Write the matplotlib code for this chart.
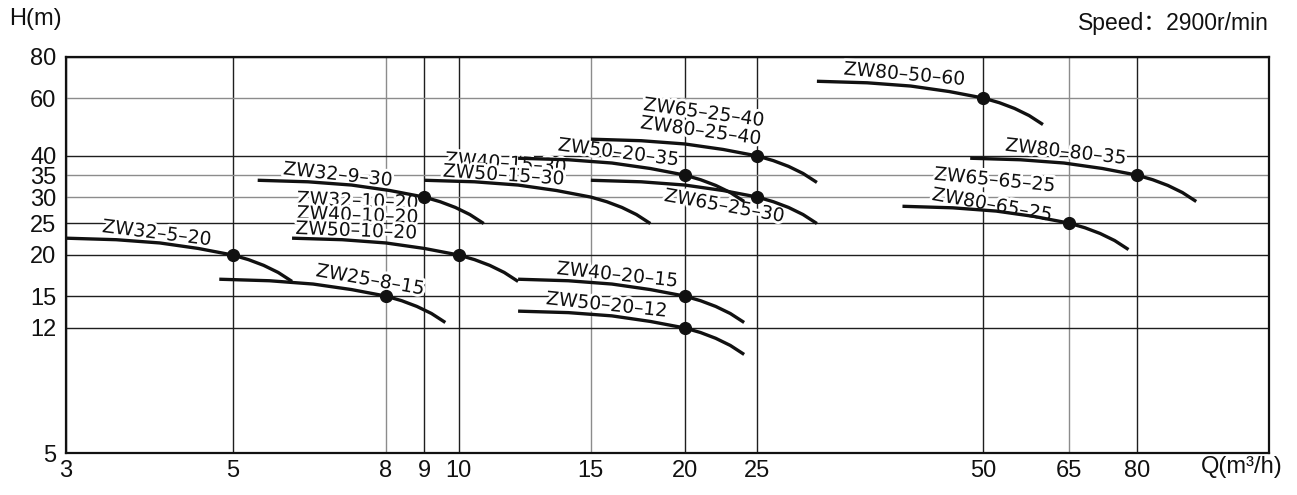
import matplotlib
matplotlib.use("Agg")
import matplotlib.pyplot as plt
import matplotlib.patheffects as pe
from matplotlib.ticker import FixedLocator, FixedFormatter, NullLocator

# ---------------- data ----------------
x_ticks = [3, 5, 8, 9, 10, 15, 20, 25, 50, 65, 80]
y_ticks = [5, 12, 15, 20, 25, 30, 35, 40, 60, 80]

curve_q = [
    [3.0, 3.5, 4.0, 4.5, 5.0, 5.25, 5.5, 5.75, 6.0],          # ZW32-5-20
    [4.8, 5.6, 6.4, 7.2, 8.0, 8.4, 8.8, 9.2, 9.6],            # ZW25-8-15
    [5.4, 6.3, 7.2, 8.1, 9.0, 9.45, 9.9, 10.35, 10.8],        # ZW32-9-30
    [6.0, 7.0, 8.0, 9.0, 10.0, 10.5, 11.0, 11.5, 12.0],       # ZW32/40/50-10-20
    [9.0, 10.5, 12.0, 13.5, 15.0, 15.75, 16.5, 17.25, 18.0],  # ZW40/50-15-30
    [12, 14, 16, 18, 20, 21, 22, 23, 24],                     # ZW50-20-35
    [15, 17.5, 20, 22.5, 25, 26.25, 27.5, 28.75, 30],         # ZW65/80-25-40
    [15, 17.5, 20, 22.5, 25, 26.25, 27.5, 28.75, 30],         # ZW65-25-30
    [12, 14, 16, 18, 20, 21, 22, 23, 24],                     # ZW40-20-15
    [12, 14, 16, 18, 20, 21, 22, 23, 24],                     # ZW50-20-12
    [30, 35, 40, 45, 50, 52.5, 55, 57.5, 60],                 # ZW80-50-60
    [48, 56, 64, 72, 80, 84, 88, 92, 96],                     # ZW80-80-35
    [39, 45.5, 52, 58.5, 65, 68.25, 71.5, 74.75, 78],         # ZW65/80-65-25
]
curve_h = [
    [22.5, 22.26, 21.76, 20.94, 20.0, 19.36, 18.6, 17.7, 16.62],
    [16.88, 16.7, 16.32, 15.7, 15.0, 14.52, 13.95, 13.28, 12.47],
    [33.75, 33.39, 32.64, 31.41, 30.0, 29.04, 27.9, 26.55, 24.93],
    [22.5, 22.26, 21.76, 20.94, 20.0, 19.36, 18.6, 17.7, 16.62],
    [33.75, 33.39, 32.64, 31.41, 30.0, 29.04, 27.9, 26.55, 24.93],
    [39.38, 38.96, 38.08, 36.65, 35.0, 33.88, 32.55, 30.98, 29.09],
    [45.0, 44.52, 43.52, 41.88, 40.0, 38.72, 37.2, 35.4, 33.24],
    [33.75, 33.39, 32.64, 31.41, 30.0, 29.04, 27.9, 26.55, 24.93],
    [16.88, 16.7, 16.32, 15.7, 15.0, 14.52, 13.95, 13.28, 12.47],
    [13.5, 13.36, 13.06, 12.56, 12.0, 11.62, 11.16, 10.62, 9.97],
    [67.5, 66.78, 65.28, 62.82, 60.0, 58.08, 55.8, 53.1, 49.86],
    [39.38, 38.96, 38.08, 36.65, 35.0, 33.88, 32.55, 30.98, 29.09],
    [28.13, 27.83, 27.2, 26.18, 25.0, 24.2, 23.25, 22.13, 20.78],
]

dot_q = [5, 8, 9, 10, 20, 25, 25, 20, 20, 50, 80, 65]
dot_h = [20, 15, 30, 20, 35, 40, 30, 15, 12, 60, 35, 25]

label_text = ["ZW32–5–20", "ZW25–8–15", "ZW32–9–30", "ZW32–10–20", "ZW40–10–20",
              "ZW50–10–20", "ZW40–15–30", "ZW50–15–30", "ZW50–20–35", "ZW65–25–40",
              "ZW80–25–40", "ZW65–25–30", "ZW40–20–15", "ZW50–20–12", "ZW80–50–60",
              "ZW80–80–35", "ZW65–65–25", "ZW80–65–25"]
label_q = [3.96, 7.62, 6.90, 7.33, 7.33, 7.30, 11.55, 11.47, 16.31, 21.2,
           21.0, 22.57, 16.26, 15.73, 39.2, 64.3, 51.7, 51.3]
label_h = [23.3, 16.8, 35.1, 29.2, 26.4, 23.7, 38.0, 35.0, 41.0, 54.2,
           47.7, 28.2, 17.4, 14.1, 70.9, 41.2, 33.8, 28.4]
label_rot = [-7, -9.8, -6.2, -2, -2, -2.2, -3.8, -3.8, -7.2, -7.7,
             -7.7, -10, -6, -6, -5, -6.3, -5.6, -10]

dark_v = [5, 9, 10, 20, 25, 50, 80, 3]
dark_h = [12, 15, 20, 25, 40, 5, 80]

# ---------------- figure ----------------
W, H = 1297, 495
fig = plt.figure(figsize=(W / 100, H / 100), dpi=100)
ax = fig.add_axes([66 / W, (H - 453) / H, (1269 - 66) / W, (453 - 57) / H])
ax.set_xscale("log")
ax.set_yscale("log")
ax.set_xlim(3, 120)
ax.set_ylim(5, 80)

for xv in x_ticks:
    ax.axvline(xv, color="#1e1e1e" if xv in dark_v else "#8c8c8c", lw=1.0, zorder=1)
for yv in y_ticks:
    ax.axhline(yv, color="#1e1e1e" if yv in dark_h else "#8c8c8c", lw=1.0, zorder=1)

for qs, hs in zip(curve_q, curve_h):
    ax.plot(qs, hs, color="#111111", lw=2.4, solid_capstyle="butt", zorder=3)
ax.plot(dot_q, dot_h, "o", color="#111111", ms=8.5, zorder=4, ls="none")

for t, q, h, r in zip(label_text, label_q, label_h, label_rot):
    ax.text(q, h, t, rotation=r, rotation_mode="anchor", ha="center", va="center",
            fontsize=13.5, family="DejaVu Sans", color="#111111", zorder=2,
            path_effects=[pe.withStroke(linewidth=4, foreground="white")])

ax.xaxis.set_major_locator(FixedLocator(x_ticks))
ax.xaxis.set_major_formatter(FixedFormatter([str(v) for v in x_ticks]))
ax.yaxis.set_major_locator(FixedLocator(y_ticks))
ax.yaxis.set_major_formatter(FixedFormatter([str(v) for v in y_ticks]))
ax.xaxis.set_minor_locator(NullLocator())
ax.yaxis.set_minor_locator(NullLocator())
ax.tick_params(axis="both", which="both", length=0, labelsize=17)
ax.tick_params(axis="x", pad=5)
ax.tick_params(axis="y", pad=7)
for lab in ax.get_xticklabels() + ax.get_yticklabels():
    lab.set_family("Liberation Sans")
    lab.set_color("#111111")
for sp in ax.spines.values():
    sp.set_linewidth(1.6)
    sp.set_color("#111111")
    sp.set_zorder(5)

fig.text(9 / W, 1 - 25 / H, "H(m)", fontsize=17, family="Liberation Sans",
         ha="left", va="baseline", color="#111111")
fig.text(1269 / W, 1 - 30 / H, "Speed：2900r/min", fontsize=16.5,
         family=["Liberation Sans", "Noto Sans CJK SC"], ha="right", va="baseline",
         color="#111111")
fig.text(1283 / W, 1 - 467 / H, "Q(m³/h)", fontsize=17, family="Liberation Sans",
         ha="right", va="center", color="#111111")

fig.savefig("out.png", dpi=100)
